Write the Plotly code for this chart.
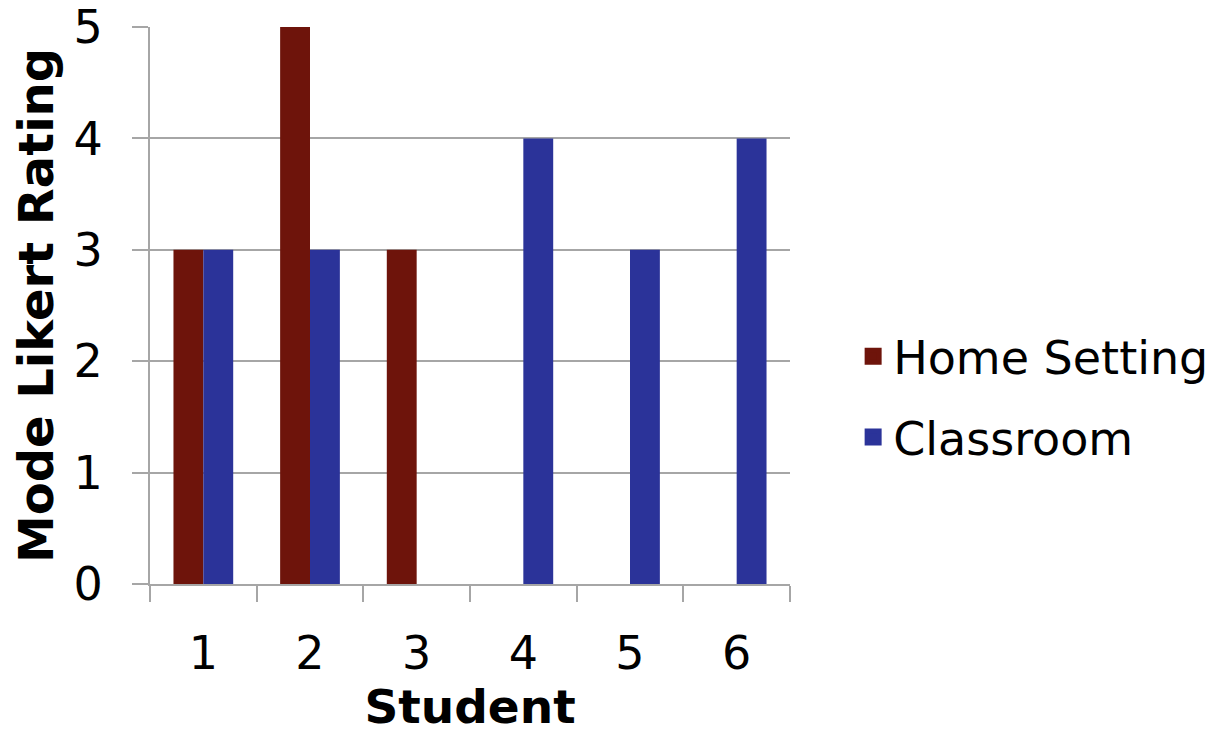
import plotly.graph_objects as go

students = ["1", "2", "3", "4", "5", "6"]
home_setting = [3, 5, 3, 0, 0, 0]
classroom = [3, 3, 0, 4, 3, 4]
y_ticks = [0, 1, 2, 3, 4, 5]

RED = "#6E140B"
BLUE = "#2B3399"
GRID = "#A6A6A6"
FONT = "DejaVu Sans"

fig = go.Figure()

# data bars
fig.add_trace(go.Bar(x=students, y=home_setting, name="Home Setting",
                     offsetgroup="home",
                     marker=dict(color=RED, line=dict(width=0)),
                     showlegend=False))
fig.add_trace(go.Bar(x=students, y=classroom, name="Classroom",
                     offsetgroup="class",
                     marker=dict(color=BLUE, line=dict(width=0)),
                     showlegend=False))

# legend entries with larger swatches (share the data bars' offset groups)
fig.add_trace(go.Bar(x=[None], y=[None], name="Home Setting", legendgroup="a",
                     offsetgroup="home",
                     marker=dict(color=RED, line=dict(color=RED, width=5))))
fig.add_trace(go.Bar(x=[None], y=[None], name="Classroom", legendgroup="b",
                     offsetgroup="class",
                     marker=dict(color=BLUE, line=dict(color=BLUE, width=5))))

fig.update_layout(
    width=1224, height=734,
    margin=dict(l=150, r=434, t=27, b=150, pad=0),
    paper_bgcolor="white", plot_bgcolor="white",
    barmode="group", bargap=0.44, bargroupgap=0,
    font=dict(family=FONT, color="black", size=46),
    legend=dict(xref="container", x=0.697, xanchor="left",
                y=0.336, yanchor="middle",
                font=dict(size=46, family=FONT), tracegroupgap=18,
                bgcolor="rgba(0,0,0,0)"),
    xaxis=dict(
        type="category", automargin=False,
        showgrid=False,
        showline=True, linecolor=GRID, linewidth=2,
        ticks="outside", tickson="boundaries", ticklen=16, tickwidth=2,
        tickcolor=GRID,
        tickfont=dict(size=46, family=FONT),
        ticklabelstandoff=28,
        title=dict(text="<b>Student</b>", font=dict(size=47, family=FONT)),
    ),
    yaxis=dict(
        range=[0, 5], tickvals=y_ticks, automargin=False,
        showgrid=True, gridcolor=GRID, gridwidth=2,
        showline=True, linecolor=GRID, linewidth=2,
        ticks="outside", ticklen=16, tickwidth=2, tickcolor=GRID,
        tickfont=dict(size=46, family=FONT),
        ticklabelstandoff=20,
        zeroline=False,
        title=dict(text="<b>Mode Likert Rating</b>",
                   font=dict(size=48, family=FONT), standoff=5),
    ),
)

fig.write_html("out.html")
